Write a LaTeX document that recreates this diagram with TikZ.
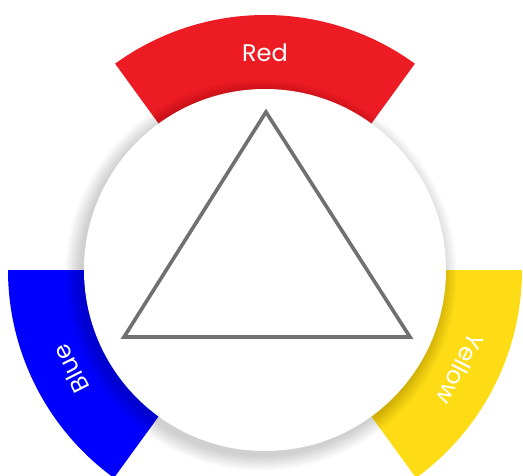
\documentclass[tikz,border=0pt]{standalone}
\usepackage{fontspec}
\usepackage{tikz}
\setmainfont{Poppins}
\definecolor{wheelred}{HTML}{ED1C24}
\definecolor{wheelblue}{HTML}{0000FF}
\definecolor{wheelyellow}{HTML}{FDDC16}
\definecolor{trigray}{HTML}{707070}

\begin{document}
\begin{tikzpicture}[x=1pt,y=1pt,
        wheellabel/.style={text=white,font=\fontsize{24}{24}\selectfont,inner sep=0pt},
        disc/.style={circle,fill=white,minimum size=362pt,inner sep=0pt},
        tri/.style={draw=trigray,line width=3.6pt,line join=miter}]
    \useasboundingbox (-265,-205) rectangle (258,270);

    % Outer sectors
    \fill[wheelred] (54:170) -- (54:255) arc (54:126:255) -- (126:170) -- cycle;
    \fill[wheelblue] (180:170) -- (180:257) arc (180:234:257) -- (234:170) -- cycle;
    \fill[wheelyellow] (-54:170) -- (-54:257) arc (-54:0:257) -- (0:170) -- cycle;

    % Shadow of the disc
    \foreach \r in {1,...,16}
        \fill[black,opacity=0.013] (-4,-5) circle (180+\r);

    % Disc
    \node[disc] (centre) at (0,0) {};

    % Triangle
    \coordinate (apex) at (1,158);
    \coordinate (right) at (145,-67);
    \coordinate (left) at (-141,-67);
    \draw[tri] (apex) -- (right) -- (left) -- cycle;

    % Labels
    \node[wheellabel] (red) at (90:217) {Red};
    \node[wheellabel,rotate=117] (blue) at (207:218) {Blue};
    \node[wheellabel,rotate=-117] (yellow) at (-27:219) {Yellow};
\end{tikzpicture}
\end{document}
